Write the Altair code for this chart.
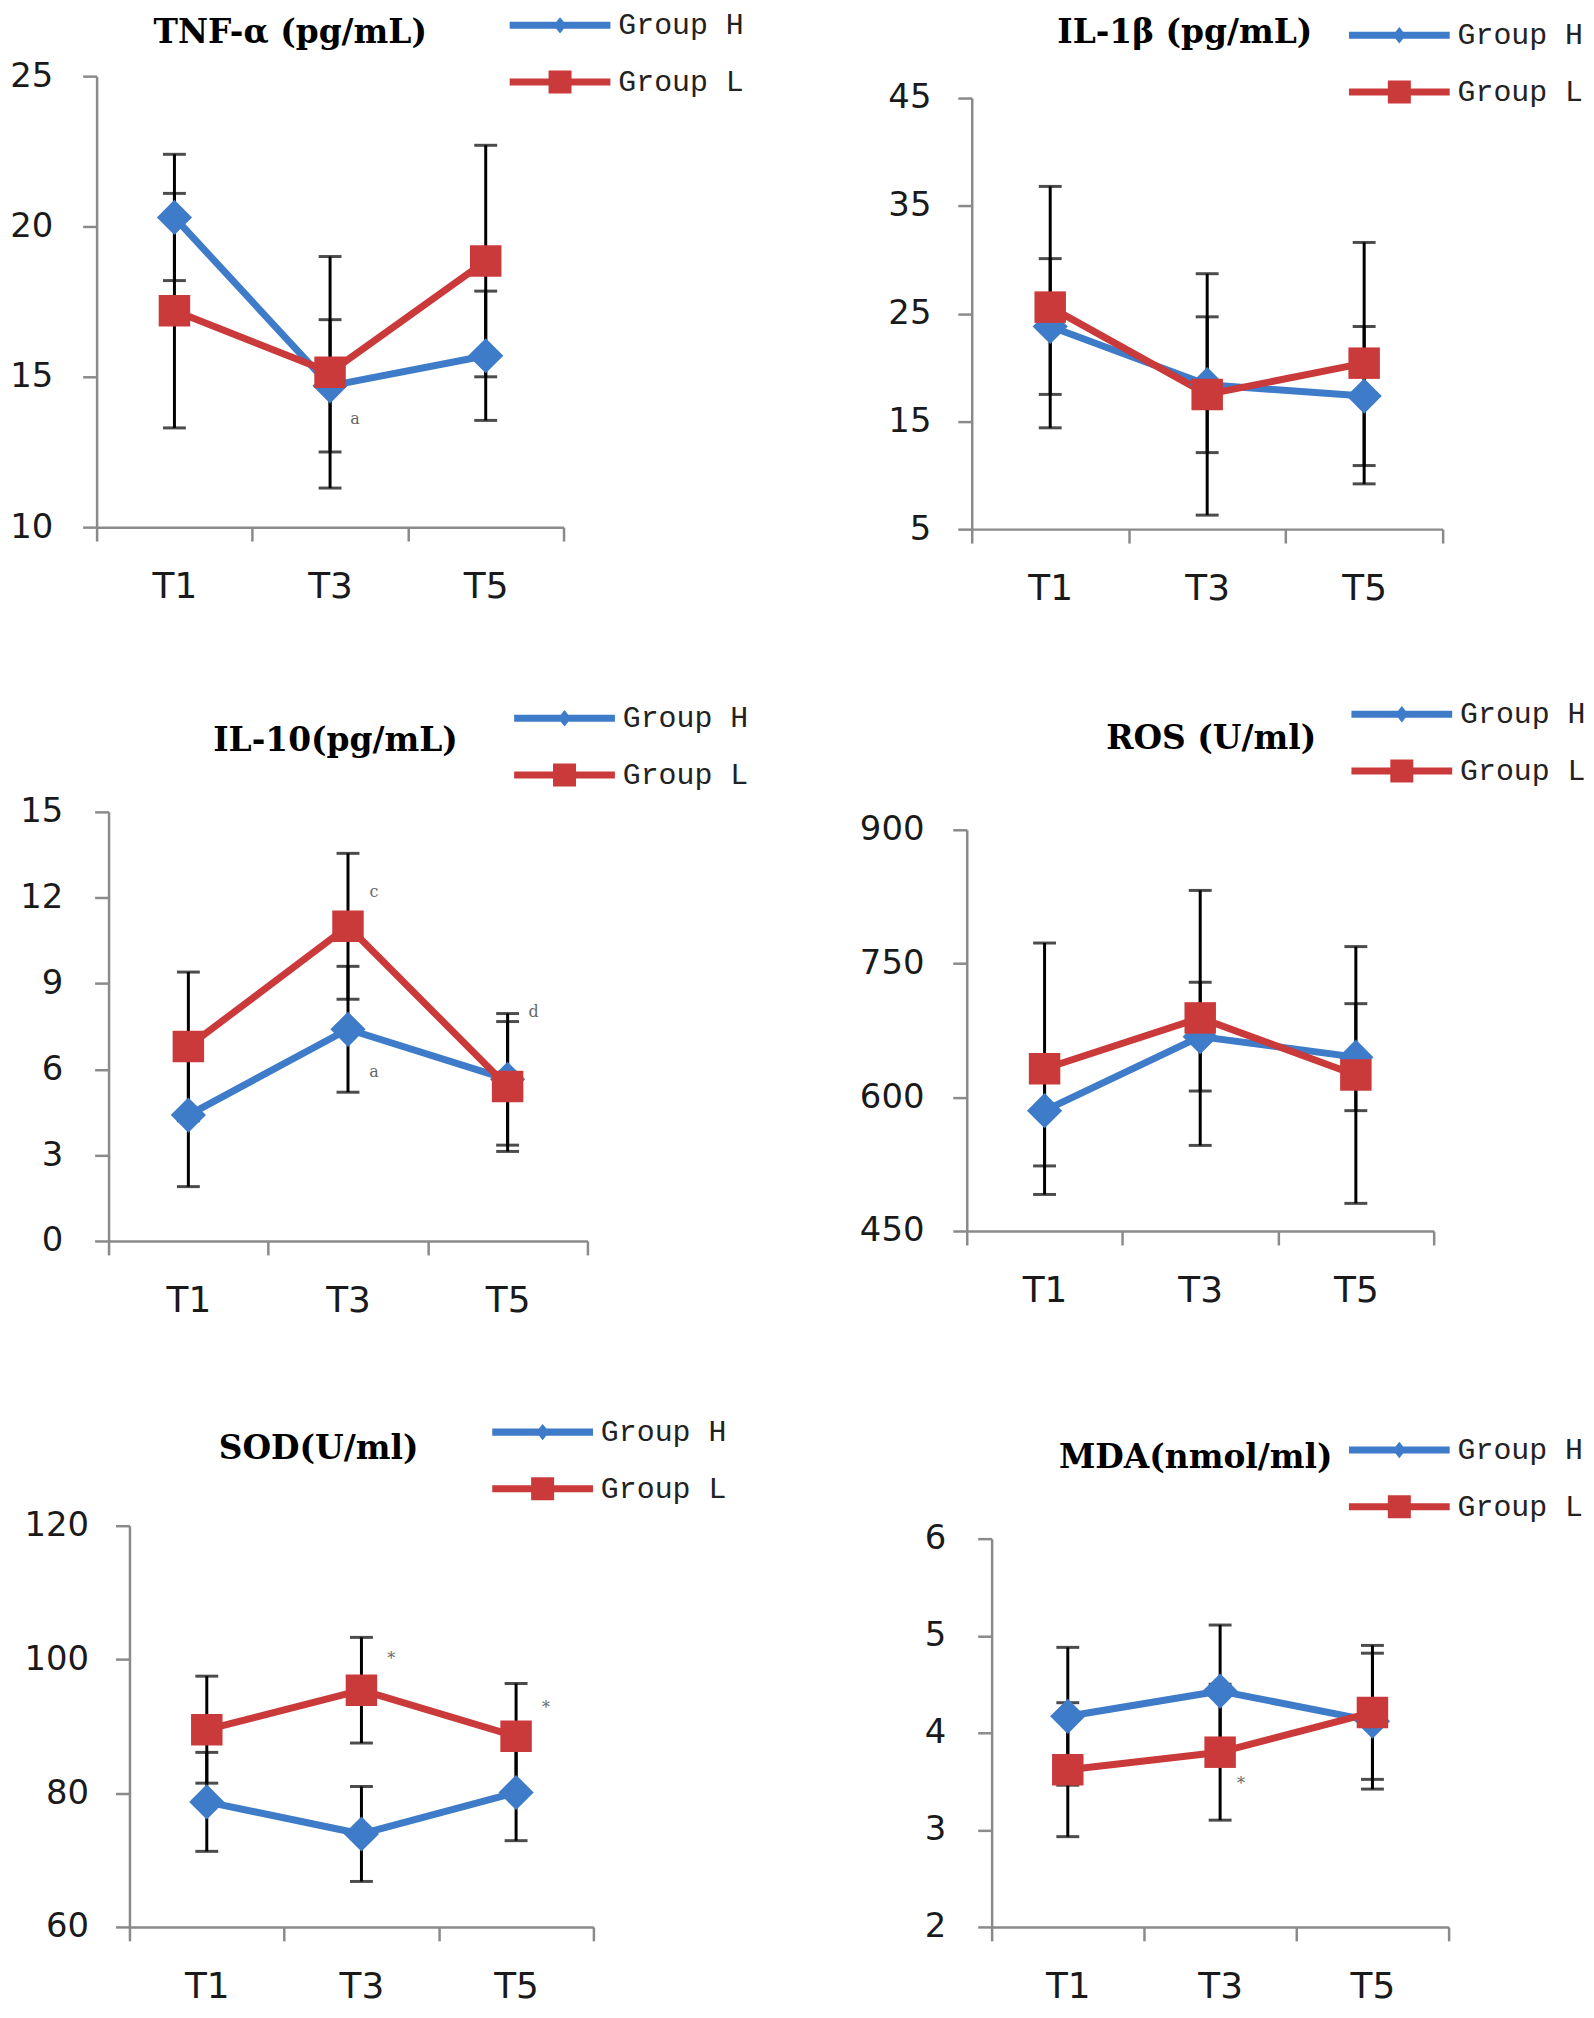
import altair as alt
import pandas as pd

times = ["T1", "T3", "T5"]
groups = ["Group H", "Group L"]

# ---- values (mean, SD) ----
tnf_h = [20.3, 14.7, 15.7]
tnf_h_sd = [2.1, 2.2, 2.15]
tnf_l = [17.2, 15.15, 18.85]
tnf_l_sd = [3.9, 3.85, 3.85]

il1_h = [23.8, 18.4, 17.35]
il1_h_sd = [6.3, 6.3, 6.45]
il1_l = [25.6, 17.5, 20.4]
il1_l_sd = [11.2, 11.2, 11.2]

il10_h = [4.4, 7.4, 5.65]
il10_h_sd = [2.5, 2.2, 2.3]
il10_l = [6.8, 11.0, 5.4]
il10_l_sd = [2.6, 2.55, 2.27]

ros_h = [585, 668, 645]
ros_h_sd = [62, 61, 60]
ros_l = [632, 689, 625]
ros_l_sd = [141, 143, 144]

sod_h = [78.7, 73.9, 80.1]
sod_h_sd = [7.4, 7.1, 7.2]
sod_l = [89.5, 95.4, 88.5]
sod_l_sd = [8.0, 7.9, 7.9]

mda_h = [4.17, 4.43, 4.12]
mda_h_sd = [0.71, 0.68, 0.70]
mda_l = [3.62, 3.80, 4.21]
mda_l_sd = [0.69, 0.70, 0.69]

# significance marks: (time, y, label)
tnf_notes = [("T3", 13.6, "a")]
il1_notes = []
il10_notes = [("T3", 12.2, "c"), ("T3", 5.9, "a"), ("T5", 8.0, "d")]
ros_notes = []
sod_notes = [("T3", 100.0, "*"), ("T5", 92.7, "*")]
mda_notes = [("T3", 3.47, "*")]

BLUE = "#3e7bc8"
RED = "#cb3a3a"
AXIS_GRAY = "#8a8a8a"
TITLE_FS = 33

# legend symbols: a line with the marker in the middle
PATH_H = "M-4.6,-0.32H4.6V0.32H-4.6Z M0,-0.75L0.6,0L0,0.75L-0.6,0Z"
PATH_L = "M-4.6,-0.32H4.6V0.32H-4.6Z M-1.05,-1.05H1.05V1.05H-1.05Z"

COL_W = [499, 484]
ROW_H = [456, 431, 406]


def panel_df(h, hsd, l, lsd):
    rows = []
    for g, m, s in (("Group H", h, hsd), ("Group L", l, lsd)):
        for t, mv, sv in zip(times, m, s):
            rows.append({"time": t, "group": g, "mean": mv, "lo": mv - sv, "hi": mv + sv})
    return pd.DataFrame(rows)


def make_panel(title, data, notes, ydom, yticks, col, row, xr, yr,
               leg_cx, leg_ry, title_dx, title_base, ylabpad, note_dx):
    W = COL_W[col]
    H = ROW_H[row]
    df = panel_df(*data)
    color_scale = alt.Scale(domain=groups, range=[BLUE, RED])

    xenc = alt.X(
        "time:N", sort=times,
        scale=alt.Scale(type="band", domain=times, range=xr, paddingInner=0, paddingOuter=0),
        axis=alt.Axis(title=None, labelAngle=0, tickBand="extent", offset=yr[0] - H,
                      labelFont="DejaVu Sans", labelFontSize=36, labelColor="#1a1a1a",
                      labelPadding=29, tickSize=14, tickWidth=2.5, tickColor=AXIS_GRAY,
                      domainColor=AXIS_GRAY, domainWidth=2.5, grid=False),
    )
    yscale = alt.Scale(domain=ydom, range=yr, nice=False, zero=False)
    yaxis = alt.Axis(title=None, values=yticks, offset=-xr[0], labelFont="DejaVu Sans",
                     labelFontSize=34, labelColor="#1a1a1a", labelPadding=ylabpad,
                     tickSize=14, tickWidth=2.5, tickColor=AXIS_GRAY,
                     domainColor=AXIS_GRAY, domainWidth=2.5, grid=False)

    legend_top = leg_ry - 14
    leg = alt.Legend(
        title=None, orient="none", legendX=leg_cx - 11, legendY=legend_top,
        direction="vertical", padding=0, symbolSize=484, symbolStrokeWidth=0,
        symbolOpacity=1, labelFont="Liberation Mono", labelFontSize=30,
        labelColor="#222222", labelOffset=43.5, rowPadding=27,
    )

    base = alt.Chart(df)
    # tiny key marks hidden under the T1 markers; they carry the legend
    key = alt.Chart(df[df["time"] == "T1"]).mark_point(filled=True, size=4).encode(
        x=xenc, y=alt.Y("mean:Q", scale=yscale, axis=yaxis),
        fill=alt.Fill("group:N", scale=alt.Scale(domain=groups, range=[BLUE, RED]), legend=leg),
        shape=alt.Shape("group:N", scale=alt.Scale(domain=groups, range=[PATH_H, PATH_L]), legend=leg),
    )
    lines = base.mark_line(strokeWidth=7, strokeJoin="round", strokeCap="round").encode(
        x=xenc, y=alt.Y("mean:Q", scale=yscale, axis=yaxis),
        color=alt.Color("group:N", scale=color_scale, legend=None),
    )
    bars = base.mark_rule(color="black", strokeWidth=3).encode(
        x=xenc, y=alt.Y("lo:Q", scale=yscale, axis=yaxis), y2="hi:Q"
    )
    cap_lo = base.mark_tick(color="black", size=23, thickness=3).encode(
        x=xenc, y=alt.Y("lo:Q", scale=yscale, axis=yaxis)
    )
    cap_hi = base.mark_tick(color="black", size=23, thickness=3).encode(
        x=xenc, y=alt.Y("hi:Q", scale=yscale, axis=yaxis)
    )
    pts_h = base.transform_filter(alt.datum.group == "Group H").mark_point(
        shape="diamond", filled=True, size=1250, opacity=1
    ).encode(
        x=xenc, y=alt.Y("mean:Q", scale=yscale, axis=yaxis),
        color=alt.Color("group:N", scale=color_scale, legend=None),
    )
    pts_l = base.transform_filter(alt.datum.group == "Group L").mark_point(
        shape="square", filled=True, size=1000, opacity=1
    ).encode(
        x=xenc, y=alt.Y("mean:Q", scale=yscale, axis=yaxis),
        color=alt.Color("group:N", scale=color_scale, legend=None),
    )
    layers = [key, lines, bars, cap_lo, cap_hi, pts_h, pts_l]

    if notes:
        ndf = pd.DataFrame(notes, columns=["time", "value", "label"])
        txt = alt.Chart(ndf).mark_text(
            dx=note_dx, fontSize=16, color="#666666", font="DejaVu Serif"
        ).encode(x=xenc, y=alt.Y("value:Q", scale=yscale, axis=yaxis), text="label:N")
        layers.append(txt)

    return alt.layer(*layers).properties(
        width=W, height=H,
        title=alt.TitleParams(
            text=title, anchor="middle", frame="group", dx=title_dx,
            dy=title_base - legend_top + TITLE_FS, offset=0, baseline="alphabetic",
            font="DejaVu Serif", fontSize=TITLE_FS, fontWeight="bold", color="black",
        ),
    )


p1 = make_panel("TNF-α (pg/mL)", (tnf_h, tnf_h_sd, tnf_l, tnf_l_sd), tnf_notes,
                [10, 25], [10, 15, 20, 25], 0, 0, [0, 469], [453, 0],
                461.5, -52, -55, -33, 30, 25)
p2 = make_panel("IL-1β (pg/mL)", (il1_h, il1_h_sd, il1_l, il1_l_sd), il1_notes,
                [5, 45], [5, 15, 25, 35, 45], 1, 0, [5, 478], [455, 22],
                430.5, -42, -23, -33, 27, 25)
p3 = make_panel("IL-10(pg/mL)", (il10_h, il10_h_sd, il10_l, il10_l_sd), il10_notes,
                [0, 15], [0, 3, 6, 9, 12, 15], 0, 1, [12, 493], [431, 0],
                466, -95, -9.5, -61, 32, 26)
p4 = make_panel("ROS (U/ml)", (ros_h, ros_h_sd, ros_l, ros_l_sd), ros_notes,
                [450, 900], [450, 600, 750, 900], 1, 1, [0, 469], [421, 18],
                433, -99, 3.5, -63, 29, 25)
p5 = make_panel("SOD(U/ml)", (sod_h, sod_h_sd, sod_l, sod_l_sd), sod_notes,
                [60, 120], [60, 80, 100, 120], 0, 2, [33, 499], [406, 3],
                444, -92, -26.5, -64.5, 27, 30)
p6 = make_panel("MDA(nmol/ml)", (mda_h, mda_h_sd, mda_l, mda_l_sd), mda_notes,
                [2, 6], [2, 3, 4, 5, 6], 1, 2, [25, 484], [406, 16],
                430.5, -74, -12, -55, 32, 21)

chart = alt.concat(
    p1, p2, p3, p4, p5, p6, columns=2,
    spacing={"row": 283, "column": 375}, bounds="flush",
).resolve_scale(
    color="independent", fill="independent", shape="independent"
).resolve_legend(
    fill="independent", shape="independent"
).properties(
    padding={"left": 1, "top": -2, "right": 0, "bottom": 0}
).configure(
    background="white"
).configure_view(strokeWidth=0, stroke="transparent")

chart.save("out.html", embed_options={"renderer": "svg", "actions": False})
